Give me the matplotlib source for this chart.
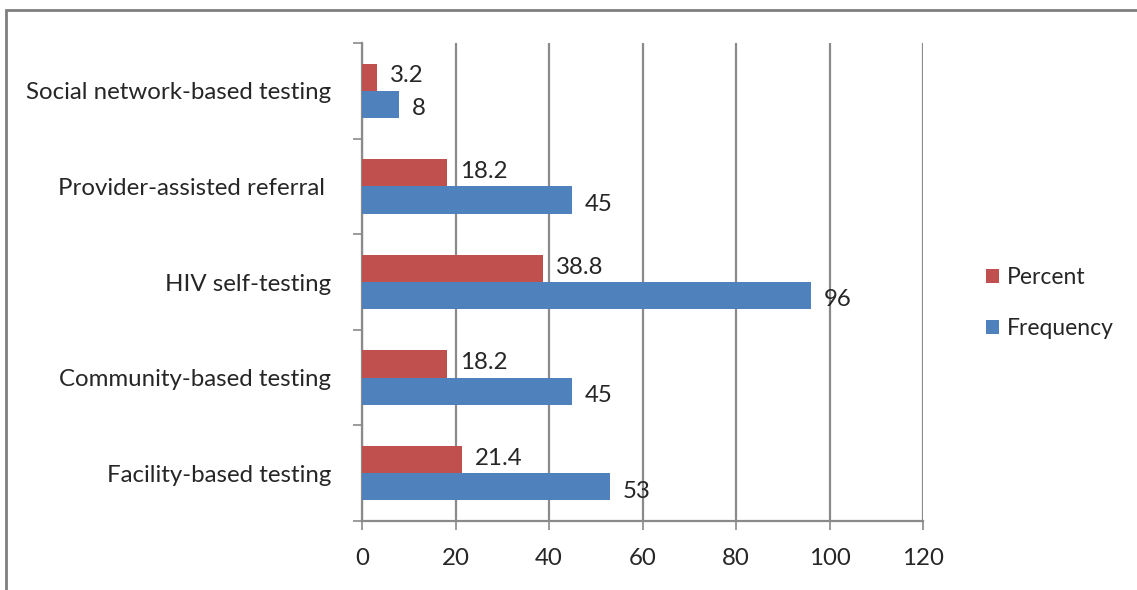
import numpy as np
import matplotlib.pyplot as plt
from matplotlib.patches import Rectangle

categories = ["Facility-based testing", "Community-based testing", "HIV self-testing",
              "Provider-assisted referral ", "Social network-based testing"]
percent = [21.4, 18.2, 38.8, 18.2, 3.2]
frequency = [53, 45, 96, 45, 8]
percent_labels = ["21.4", "18.2", "38.8", "18.2", "3.2"]
frequency_labels = ["53", "45", "96", "45", "8"]

plt.rcParams['font.family'] = ['Lato', 'DejaVu Sans']
txt = '#262626'
axc = '#8a8a8a'
red = '#C0504D'
blue = '#4F81BD'
fs = 17.3

fig = plt.figure(figsize=(11.37, 5.90), dpi=100)
ax = fig.add_axes([0.3184, 0.1169, 0.8118 - 0.3184, 0.9271 - 0.1169])

y = np.arange(len(categories))
h = 0.285
b1 = ax.barh(y + h / 2, percent, height=h, color=red, label='Percent', zorder=3)
b2 = ax.barh(y - h / 2, frequency, height=h, color=blue, label='Frequency', zorder=3)

for bar, lab in zip(b1, percent_labels):
    ax.annotate(lab, (bar.get_width(), bar.get_y() + bar.get_height() / 2),
                xytext=(9, 1), textcoords='offset points', va='center', ha='left',
                fontsize=fs, color=txt)
for bar, lab in zip(b2, frequency_labels):
    ax.annotate(lab, (bar.get_width(), bar.get_y() + bar.get_height() / 2),
                xytext=(9, -3), textcoords='offset points', va='center', ha='left',
                fontsize=fs, color=txt)

ax.set_xlim(0, 120)
ax.set_ylim(-0.5, 4.5)
ax.set_xticks(range(0, 121, 20))
ax.set_yticks(y)
ax.set_yticklabels(categories)
ax.set_yticks(np.arange(-0.5, 4.6, 1), minor=True)
ax.tick_params(axis='y', which='major', length=0, pad=22, labelsize=fs, labelcolor=txt)
ax.tick_params(axis='y', which='minor', length=6.5, width=1.2, color=axc, direction='out')
ax.tick_params(axis='x', length=6.5, width=1.2, color=axc, pad=13, labelsize=fs, labelcolor=txt)

ax.grid(axis='x', color=axc, linewidth=1.6, zorder=0)
for s in ['top', 'right']:
    ax.spines[s].set_visible(False)
for s in ['left', 'bottom']:
    ax.spines[s].set_color(axc)
    ax.spines[s].set_linewidth(1.6)

fig.legend(loc='center left', bbox_to_anchor=(0.849, 0.486), frameon=False,
           fontsize=16.5, handlelength=0.55, handleheight=0.55, handletextpad=0.35,
           labelspacing=1.3, labelcolor=txt)

# outer border of the chart area
fig.patches.append(Rectangle((0.005, -0.1), 1.2, 1.083, transform=fig.transFigure,
                             fill=False, edgecolor='#7f7f7f', linewidth=2))

fig.savefig('out.png', dpi=100)
